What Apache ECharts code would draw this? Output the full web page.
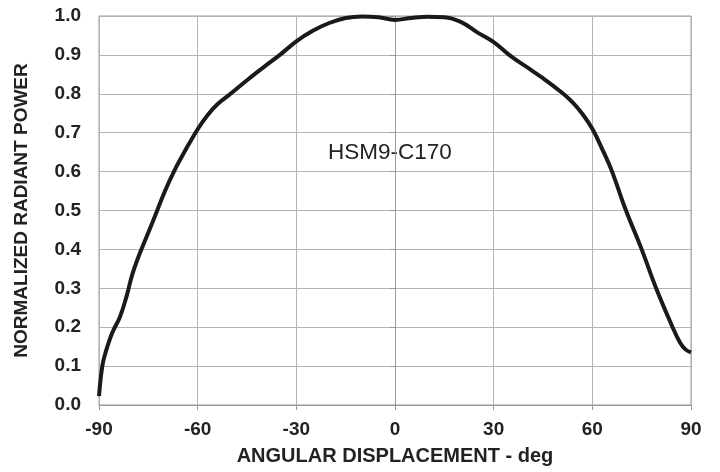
<!DOCTYPE html>
<html>
<head>
<meta charset="utf-8">
<script src="https://cdn.jsdelivr.net/npm/echarts@6/dist/echarts.min.js"></script>
<style>
html,body{margin:0;padding:0;background:#fff;}
#c{width:720px;height:472px;}
</style>
</head>
<body>
<div id="c"></div>
<script>
var angles = [-90, -89, -88, -86, -83.6, -81.6, -80, -78, -75.5, -73, -70, -67, -64, -60, -57, -54, -50, -45, -40, -35, -30, -25, -20, -15, -10, -5, 0, 5, 10, 15, 20, 25, 30, 35, 40, 45, 50, 54, 57, 60, 63, 66, 70, 75, 79.4, 84.4, 86.7, 88.3, 90];
var power = [0.023, 0.10, 0.135, 0.185, 0.227, 0.28, 0.332, 0.381, 0.433, 0.485, 0.549, 0.604, 0.651, 0.709, 0.745, 0.773, 0.80, 0.835, 0.868, 0.90, 0.935, 0.962, 0.982, 0.995, 0.999, 0.997, 0.99, 0.995, 0.998, 0.997, 0.985, 0.958, 0.933, 0.898, 0.869, 0.84, 0.808, 0.778, 0.748, 0.71, 0.658, 0.60, 0.505, 0.40, 0.30, 0.20, 0.16, 0.143, 0.135];
var xTicks = [-90, -60, -30, 0, 30, 60, 90];
var yTicks = [0.0, 0.1, 0.2, 0.3, 0.4, 0.5, 0.6, 0.7, 0.8, 0.9, 1.0];
var seriesLabel = 'HSM9-C170';
var xTitle = 'ANGULAR DISPLACEMENT - deg';
var yTitle = 'NORMALIZED RADIANT POWER';

var data = angles.map(function (a, i) { return [a, power[i]]; });
var chart = echarts.init(document.getElementById('c'), null, {renderer: 'canvas'});
var font = 'Liberation Sans, Arial, sans-serif';
chart.setOption({
  animation: false,
  backgroundColor: '#fff',
  grid: {left: 99, right: 29, top: 16, bottom: 67, show: true, borderColor: '#999', borderWidth: 1},
  xAxis: {
    type: 'value', min: xTicks[0], max: xTicks[xTicks.length - 1], interval: 30,
    name: xTitle, nameLocation: 'middle', nameGap: 41,
    nameTextStyle: {fontFamily: font, fontWeight: 'bold', fontSize: 20, color: '#222'},
    axisLine: {show: true, lineStyle: {color: '#999', width: 1}},
    axisTick: {show: true, length: 5, lineStyle: {color: '#999'}},
    axisLabel: {fontFamily: font, fontWeight: 'bold', fontSize: 19, color: '#222', margin: 15},
    splitLine: {show: true, lineStyle: {color: '#b4b4b4', width: 1}}
  },
  yAxis: {
    type: 'value', min: yTicks[0], max: yTicks[yTicks.length - 1], interval: 0.1,
    name: yTitle, nameLocation: 'middle', nameGap: 68,
    nameTextStyle: {fontFamily: font, fontWeight: 'bold', fontSize: 19, color: '#222'},
    axisLine: {show: true, lineStyle: {color: '#999', width: 1}},
    axisTick: {show: true, length: 5, lineStyle: {color: '#999'}},
    axisLabel: {fontFamily: font, fontWeight: 'bold', fontSize: 19, color: '#222', margin: 18,
      formatter: function (v) { return v.toFixed(1); }},
    splitLine: {show: true, lineStyle: {color: '#b4b4b4', width: 1}}
  },
  graphic: [{
    type: 'text', left: 328, top: 141,
    style: {text: seriesLabel, fontFamily: font, fontSize: 22.5, fill: '#222'}
  }],
  series: [{
    type: 'line', data: data, smooth: 0.4, showSymbol: false,
    lineStyle: {color: '#1a1a1a', width: 4}
  }]
});
</script>
</body>
</html>
